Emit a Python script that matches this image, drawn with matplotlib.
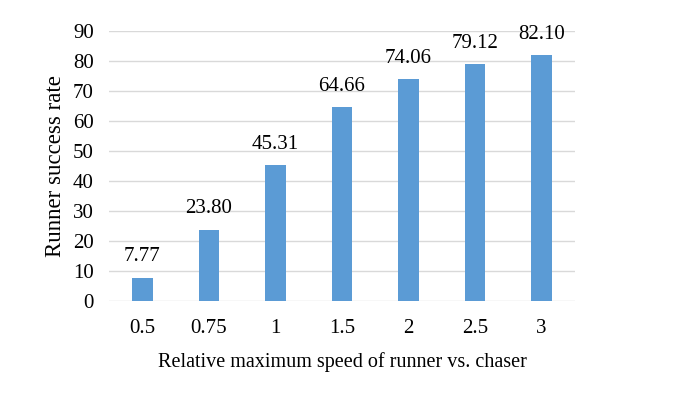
import matplotlib.pyplot as plt
import numpy as np

# data
speeds = ["0.5", "0.75", "1", "1.5", "2", "2.5", "3"]
success = [7.77, 23.80, 45.31, 64.66, 74.06, 79.12, 82.10]

plt.rcParams['font.family'] = ['Liberation Serif', 'DejaVu Serif']

fig = plt.figure(figsize=(6.78, 3.99), dpi=100)
ax = fig.add_axes([0.161, 0.246, 0.687, 0.676])

x = np.arange(len(speeds))
bars = ax.bar(x, success, width=0.31, color="#5B9BD5", zorder=3)

# value labels above the bars
for xi, v in zip(x, success):
    ax.annotate(f"{v:.2f}", (xi, v), xytext=(0, 8), textcoords="offset points",
                ha="center", va="bottom", fontsize=15, color="#000000")

ax.set_xlim(-0.5, len(speeds) - 0.5)
ax.set_ylim(0, 90)
ax.set_yticks(np.arange(0, 91, 10))
ax.set_xticks(x)
ax.set_xticklabels(speeds)
ax.tick_params(axis="both", length=0, labelsize=15, colors="#000000")
ax.tick_params(axis="y", pad=11)
ax.tick_params(axis="x", pad=13)

ax.grid(axis="y", color="#D9D9D9", linewidth=1, zorder=0)
for s in ax.spines.values():
    s.set_visible(False)

ax.set_xlabel("Relative maximum speed of runner vs. chaser", fontsize=14.5, labelpad=10)
ax.set_ylabel("Runner success rate", fontsize=16.5, labelpad=5)

plt.savefig("out.png", dpi=100)
